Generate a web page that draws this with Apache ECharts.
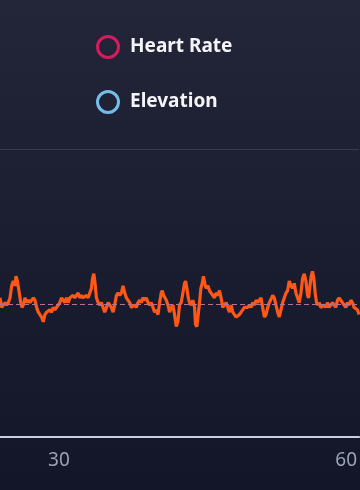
<!DOCTYPE html>
<html>
<head>
<meta charset="utf-8">
<style>
html,body{margin:0;padding:0;background:#1b1e31;}
#chart{width:360px;height:490px;}
</style>
<script src="https://cdn.jsdelivr.net/npm/echarts@6/dist/echarts.min.js"></script>
</head>
<body>
<div id="chart"></div>
<script>
// Time in minutes (x) and heart rate in bpm (y)
const minutes = [
  23.85,24.03,24.20,24.38,24.55,24.72,24.90,25.07,25.24,25.42,25.52,25.66,25.87,26.01,26.15,26.28,26.46,26.63,26.81,26.98,27.15,27.33,27.50,27.67,27.85,28.02,28.19,28.37,28.54,28.72,28.89,29.06,29.24,29.41,29.58,29.76,29.93,
  30.10,30.28,30.45,30.63,30.80,30.97,31.15,31.32,31.49,31.67,31.84,32.01,32.19,32.36,32.53,32.71,32.88,33.06,33.23,33.40,33.51,33.65,33.78,33.92,34.10,34.27,34.44,34.62,34.79,34.97,35.14,35.31,35.49,35.66,35.83,36.01,36.18,
  36.35,36.53,36.70,36.88,37.05,37.22,37.40,37.57,37.74,37.92,38.09,38.26,38.44,38.61,38.78,38.96,39.13,39.31,39.48,39.65,39.83,40.00,40.17,40.35,40.52,40.69,40.80,40.94,41.08,41.22,41.39,41.56,41.74,41.91,42.08,42.26,42.43,
  42.60,42.78,42.95,43.13,43.23,43.37,43.51,43.65,43.82,43.99,44.17,44.27,44.41,44.55,44.69,44.83,44.97,45.10,45.24,45.38,45.56,45.73,45.90,46.08,46.25,46.42,46.60,46.77,46.94,47.12,47.29,47.47,47.64,47.81,47.99,48.16,48.33,48.51,48.68,
  48.85,49.03,49.20,49.38,49.55,49.72,49.90,50.07,50.24,50.42,50.59,50.76,50.94,51.11,51.28,51.46,51.63,51.81,51.98,52.15,52.33,52.50,52.67,52.85,53.02,53.19,53.37,53.54,53.72,53.89,54.06,54.24,54.41,54.58,54.76,54.93,
  55.10,55.28,55.45,55.63,55.80,55.97,56.08,56.22,56.35,56.49,56.63,56.77,56.91,57.05,57.19,57.36,57.53,57.71,57.88,58.06,58.23,58.40,58.58,58.75,58.92,59.10,59.27,59.44,59.62,59.79,59.97,60.14,60.31,60.49,60.66,60.83,61.01,61.18,61.35
];
const heartRate = [
  138,134,134,136,135,136,138,143,145,143,147,145,140,136,134,135,138,136,137,136,136,138,137,134,132,131,130,128,131,132,132,133,132,134,133,134,135,
  136,138,137,136,138,136,138,138,139,138,138,140,138,139,138,138,139,138,140,142,146,148,144,138,136,135,136,136,132,134,136,135,134,132,135,139,140,
  139,140,143,140,138,138,136,134,134,135,134,136,137,136,138,137,138,136,135,136,134,132,133,131,136,140,141,139,138,137,135,132,134,135,131,126,128,
  135,136,140,144,145,142,138,136,135,137,134,127,126,131,136,142,144,147,144,142,143,141,140,140,138,140,139,141,138,134,134,136,134,132,135,132,131,130,130,
  131,132,132,134,134,134,135,134,136,135,137,136,136,138,134,130,131,134,136,136,139,138,135,132,130,130,136,136,140,141,145,143,142,144,140,138,
  136,140,146,148,145,139,138,143,147,149,146,140,136,135,136,134,134,135,134,136,134,134,136,135,134,137,138,138,136,135,134,136,135,137,136,134,134,133,131
];
const elevation = [];
const avgHeartRate = 135.4;
const xTickLabels = [30, 60];
const seriesNames = ['Heart Rate', 'Elevation'];

const chart = echarts.init(document.getElementById('chart'));
const fontFamily = '"Noto Sans", "Open Sans", sans-serif';
chart.setOption({
  animation: false,
  backgroundColor: {
    type: 'linear', x: 0, y: 0, x2: 0, y2: 1,
    colorStops: [
      { offset: 0, color: '#232538' },
      { offset: 1, color: '#121628' }
    ]
  },
  legend: {
    orient: 'vertical',
    left: 91,
    top: 30,
    itemWidth: 34,
    itemHeight: 21,
    itemGap: 31,
    textStyle: { color: '#f4f5f8', fontSize: 19, fontWeight: 'bold', fontFamily: fontFamily },
    data: [
      { name: seriesNames[0], icon: 'circle', itemStyle: { color: 'transparent', borderColor: '#d81b5e', borderWidth: 3 } },
      { name: seriesNames[1], icon: 'circle', itemStyle: { color: 'transparent', borderColor: '#74bde8', borderWidth: 3 } }
    ]
  },
  grid: { left: 0, right: 0, top: 149, bottom: 53, containLabel: false },
  xAxis: {
    type: 'value',
    min: 23.85,
    max: 61.35,
    axisLine: { show: true, lineStyle: { color: '#c9cddd', width: 2 } },
    axisTick: { show: false },
    splitLine: { show: false },
    axisLabel: {
      customValues: xTickLabels,
      color: '#9ca1b5',
      fontSize: 19,
      fontFamily: fontFamily,
      margin: 14
    }
  },
  yAxis: {
    type: 'value',
    min: 80,
    max: 200,
    interval: 120,
    axisLine: { show: false },
    axisTick: { show: false },
    axisLabel: { show: false },
    splitLine: { show: true, lineStyle: { color: '#383b51', width: 1 } }
  },
  series: [
    {
      name: seriesNames[0],
      type: 'line',
      data: minutes.map((m, i) => [m, heartRate[i]]),
      showSymbol: false,
      symbol: 'none',
      itemStyle: { color: '#d81b5e' },
      lineStyle: { color: '#ff5716', width: 3.2 },
      markLine: {
        silent: true,
        symbol: 'none',
        label: { show: false },
        lineStyle: { type: [5, 3], color: '#b27392', width: 1 },
        data: [{ yAxis: avgHeartRate }]
      }
    },
    {
      name: seriesNames[1],
      type: 'line',
      data: elevation,
      showSymbol: false,
      itemStyle: { color: '#74bde8' },
      lineStyle: { color: '#74bde8' }
    }
  ]
});
</script>
</body>
</html>
